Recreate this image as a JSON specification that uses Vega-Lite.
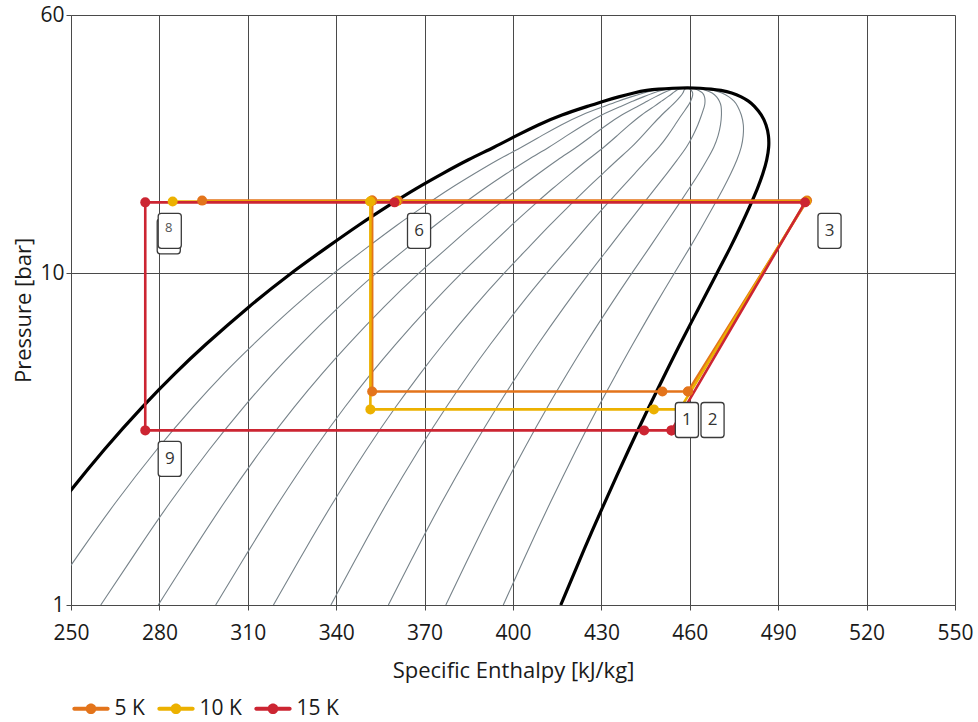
{
  "$schema": "https://vega.github.io/schema/vega-lite/v6.json",
  "width": 884,
  "height": 590,
  "autosize": {"type": "none"},
  "padding": {"left": 71, "top": 15, "right": 23, "bottom": 117},
  "background": "white",
  "config": {
    "view": {"stroke": null},
    "font": "Open Sans",
    "axis": {
      "domainColor": "#4a4a4a",
      "tickColor": "#4a4a4a",
      "gridColor": "#4a4a4a",
      "gridOpacity": 1,
      "gridWidth": 1,
      "labelColor": "#1a1a1a",
      "titleColor": "#1a1a1a",
      "labelFontSize": 21,
      "titleFontSize": 22,
      "titleFontWeight": "normal",
      "labelFont": "Open Sans",
      "titleFont": "Open Sans",
      "tickSize": 5,
      "labelFlush": false,
      "labelOverlap": false
    }
  },
  "datasets": {
    "dome": [
      {"o":1,"h":221.1,"p":1},{"o":2,"h":235.5,"p":1.5},{"o":3,"h":245.8,"p":2},{"o":4,"h":261.9,"p":3},{"o":5,"h":274.6,"p":4},{"o":6,"h":285.3,"p":5},{"o":7,"h":294.7,"p":6},{"o":8,"h":310.75,"p":8},{"o":9,"h":324.5,"p":10},{"o":10,"h":337.05,"p":12},{"o":11,"h":347.7,"p":14},{"o":12,"h":357.8,"p":16},{"o":13,"h":367.0,"p":18},{"o":14,"h":376.2,"p":20},{"o":15,"h":384.8,"p":22},{"o":16,"h":393.8,"p":24},{"o":17,"h":401.2,"p":26},{"o":18,"h":408.5,"p":28},{"o":19,"h":416.3,"p":30},{"o":20,"h":426.1,"p":32},{"o":21,"h":430.7,"p":33},{"o":22,"h":435.8,"p":34},{"o":23,"h":441.2,"p":35},{"o":24,"h":445.4,"p":35.6},{"o":25,"h":449.3,"p":35.9},{"o":26,"h":454.0,"p":36.1},{"o":27,"h":459.4,"p":36.25},{"o":28,"h":463.8,"p":36.1},{"o":29,"h":467.2,"p":35.9},{"o":30,"h":470.5,"p":35.6},{"o":31,"h":474.3,"p":35},{"o":32,"h":477.6,"p":34},{"o":33,"h":480.0,"p":33},{"o":34,"h":481.8,"p":32},{"o":35,"h":484.4,"p":30},{"o":36,"h":486.0,"p":28},{"o":37,"h":486.8,"p":26},{"o":38,"h":486.9,"p":24},{"o":39,"h":486.2,"p":22},{"o":40,"h":484.9,"p":20},{"o":41,"h":483.0,"p":18},{"o":42,"h":480.5,"p":16},{"o":43,"h":477.5,"p":14},{"o":44,"h":473.9,"p":12},{"o":45,"h":469.2,"p":10},{"o":46,"h":463.5,"p":8},{"o":47,"h":456.2,"p":6},{"o":48,"h":451.8,"p":5},{"o":49,"h":446.4,"p":4},{"o":50,"h":439.7,"p":3},{"o":51,"h":430.7,"p":2},{"o":52,"h":424.5,"p":1.5},{"o":53,"h":416.2,"p":1}
    ],
    "quality": [
      {"q":1,"p":1,"h":240.6},{"q":1,"p":1.5,"h":254.4},{"q":1,"p":2,"h":264.3},{"q":1,"p":3,"h":279.7},{"q":1,"p":4,"h":291.8},{"q":1,"p":5,"h":301.9},{"q":1,"p":6,"h":310.9},{"q":1,"p":8,"h":326.0},{"q":1,"p":10,"h":339.0},{"q":1,"p":12,"h":350.7},{"q":1,"p":14,"h":360.7},{"q":1,"p":16,"h":370.1},{"q":1,"p":18,"h":378.6},{"q":1,"p":20,"h":387.1},{"q":1,"p":22,"h":394.9},{"q":1,"p":24,"h":403.1},{"q":1,"p":26,"h":409.8},{"q":1,"p":28,"h":416.3},{"q":1,"p":30,"h":423.1},{"q":1,"p":32,"h":431.7},{"q":1,"p":33,"h":435.6},{"q":1,"p":34,"h":440.0},{"q":1,"p":35,"h":444.5},{"q":1,"p":35.6,"h":447.9},{"q":1,"p":35.9,"h":451.1},{"q":1,"p":36.1,"h":455.0},{"q":1,"p":36.25,"h":459.4},
      {"q":2,"p":1,"h":260.1},{"q":2,"p":1.5,"h":273.3},{"q":2,"p":2,"h":282.8},{"q":2,"p":3,"h":297.5},{"q":2,"p":4,"h":309.0},{"q":2,"p":5,"h":318.6},{"q":2,"p":6,"h":327.0},{"q":2,"p":8,"h":341.3},{"q":2,"p":10,"h":353.4},{"q":2,"p":12,"h":364.4},{"q":2,"p":14,"h":373.7},{"q":2,"p":16,"h":382.3},{"q":2,"p":18,"h":390.2},{"q":2,"p":20,"h":397.9},{"q":2,"p":22,"h":405.1},{"q":2,"p":24,"h":412.4},{"q":2,"p":26,"h":418.3},{"q":2,"p":28,"h":424.0},{"q":2,"p":30,"h":429.9},{"q":2,"p":32,"h":437.2},{"q":2,"p":33,"h":440.6},{"q":2,"p":34,"h":444.2},{"q":2,"p":35,"h":447.8},{"q":2,"p":35.6,"h":450.4},{"q":2,"p":35.9,"h":452.9},{"q":2,"p":36.1,"h":456.0},{"q":2,"p":36.25,"h":459.4},
      {"q":3,"p":1,"h":279.6},{"q":3,"p":1.5,"h":292.2},{"q":3,"p":2,"h":301.3},{"q":3,"p":3,"h":315.2},{"q":3,"p":4,"h":326.1},{"q":3,"p":5,"h":335.3},{"q":3,"p":6,"h":343.2},{"q":3,"p":8,"h":356.6},{"q":3,"p":10,"h":367.9},{"q":3,"p":12,"h":378.1},{"q":3,"p":14,"h":386.6},{"q":3,"p":16,"h":394.6},{"q":3,"p":18,"h":401.8},{"q":3,"p":20,"h":408.8},{"q":3,"p":22,"h":415.2},{"q":3,"p":24,"h":421.7},{"q":3,"p":26,"h":426.9},{"q":3,"p":28,"h":431.8},{"q":3,"p":30,"h":436.7},{"q":3,"p":32,"h":442.8},{"q":3,"p":33,"h":445.5},{"q":3,"p":34,"h":448.3},{"q":3,"p":35,"h":451.1},{"q":3,"p":35.6,"h":452.9},{"q":3,"p":35.9,"h":454.7},{"q":3,"p":36.1,"h":456.9},{"q":3,"p":36.25,"h":459.4},
      {"q":4,"p":1,"h":299.1},{"q":4,"p":1.5,"h":311.1},{"q":4,"p":2,"h":319.8},{"q":4,"p":3,"h":333.0},{"q":4,"p":4,"h":343.3},{"q":4,"p":5,"h":351.9},{"q":4,"p":6,"h":359.3},{"q":4,"p":8,"h":371.9},{"q":4,"p":10,"h":382.4},{"q":4,"p":12,"h":391.8},{"q":4,"p":14,"h":399.6},{"q":4,"p":16,"h":406.9},{"q":4,"p":18,"h":413.4},{"q":4,"p":20,"h":419.7},{"q":4,"p":22,"h":425.4},{"q":4,"p":24,"h":431.0},{"q":4,"p":26,"h":435.4},{"q":4,"p":28,"h":439.5},{"q":4,"p":30,"h":443.5},{"q":4,"p":32,"h":448.4},{"q":4,"p":33,"h":450.4},{"q":4,"p":34,"h":452.5},{"q":4,"p":35,"h":454.4},{"q":4,"p":35.6,"h":455.4},{"q":4,"p":35.9,"h":456.5},{"q":4,"p":36.1,"h":457.9},{"q":4,"p":36.25,"h":459.4},
      {"q":5,"p":1,"h":318.7},{"q":5,"p":1.5,"h":330.0},{"q":5,"p":2,"h":338.3},{"q":5,"p":3,"h":350.8},{"q":5,"p":4,"h":360.5},{"q":5,"p":5,"h":368.6},{"q":5,"p":6,"h":375.5},{"q":5,"p":8,"h":387.1},{"q":5,"p":10,"h":396.9},{"q":5,"p":12,"h":405.5},{"q":5,"p":14,"h":412.6},{"q":5,"p":16,"h":419.2},{"q":5,"p":18,"h":425.0},{"q":5,"p":20,"h":430.6},{"q":5,"p":22,"h":435.5},{"q":5,"p":24,"h":440.4},{"q":5,"p":26,"h":444.0},{"q":5,"p":28,"h":447.3},{"q":5,"p":30,"h":450.4},{"q":5,"p":32,"h":453.9},{"q":5,"p":33,"h":455.4},{"q":5,"p":34,"h":456.7},{"q":5,"p":35,"h":457.8},{"q":5,"p":35.6,"h":458.0},{"q":5,"p":35.9,"h":458.3},{"q":5,"p":36.1,"h":458.9},{"q":5,"p":36.25,"h":459.4},
      {"q":6,"p":1,"h":338.2},{"q":6,"p":1.5,"h":348.9},{"q":6,"p":2,"h":356.7},{"q":6,"p":3,"h":368.6},{"q":6,"p":4,"h":377.7},{"q":6,"p":5,"h":385.2},{"q":6,"p":6,"h":391.6},{"q":6,"p":8,"h":402.4},{"q":6,"p":10,"h":411.3},{"q":6,"p":12,"h":419.2},{"q":6,"p":14,"h":425.6},{"q":6,"p":16,"h":431.4},{"q":6,"p":18,"h":436.6},{"q":6,"p":20,"h":441.4},{"q":6,"p":22,"h":445.6},{"q":6,"p":24,"h":449.7},{"q":6,"p":26,"h":452.6},{"q":6,"p":28,"h":455.0},{"q":6,"p":30,"h":457.2},{"q":6,"p":32,"h":459.5},{"q":6,"p":33,"h":460.3},{"q":6,"p":34,"h":460.9},{"q":6,"p":35,"h":461.1},{"q":6,"p":35.6,"h":460.5},{"q":6,"p":35.9,"h":460.0},{"q":6,"p":36.1,"h":459.9},{"q":6,"p":36.25,"h":459.4},
      {"q":7,"p":1,"h":357.7},{"q":7,"p":1.5,"h":367.8},{"q":7,"p":2,"h":375.2},{"q":7,"p":3,"h":386.4},{"q":7,"p":4,"h":394.9},{"q":7,"p":5,"h":401.9},{"q":7,"p":6,"h":407.8},{"q":7,"p":8,"h":417.7},{"q":7,"p":10,"h":425.8},{"q":7,"p":12,"h":432.8},{"q":7,"p":14,"h":438.6},{"q":7,"p":16,"h":443.7},{"q":7,"p":18,"h":448.2},{"q":7,"p":20,"h":452.3},{"q":7,"p":22,"h":455.8},{"q":7,"p":24,"h":459.0},{"q":7,"p":26,"h":461.1},{"q":7,"p":28,"h":462.8},{"q":7,"p":30,"h":464.0},{"q":7,"p":32,"h":465.1},{"q":7,"p":33,"h":465.2},{"q":7,"p":34,"h":465.1},{"q":7,"p":35,"h":464.4},{"q":7,"p":35.6,"h":463.0},{"q":7,"p":35.9,"h":461.8},{"q":7,"p":36.1,"h":460.9},{"q":7,"p":36.25,"h":459.4},
      {"q":8,"p":1,"h":377.2},{"q":8,"p":1.5,"h":386.7},{"q":8,"p":2,"h":393.7},{"q":8,"p":3,"h":404.1},{"q":8,"p":4,"h":412.0},{"q":8,"p":5,"h":418.5},{"q":8,"p":6,"h":423.9},{"q":8,"p":8,"h":433.0},{"q":8,"p":10,"h":440.3},{"q":8,"p":12,"h":446.5},{"q":8,"p":14,"h":451.5},{"q":8,"p":16,"h":456.0},{"q":8,"p":18,"h":459.8},{"q":8,"p":20,"h":463.2},{"q":8,"p":22,"h":465.9},{"q":8,"p":24,"h":468.3},{"q":8,"p":26,"h":469.7},{"q":8,"p":28,"h":470.5},{"q":8,"p":30,"h":470.8},{"q":8,"p":32,"h":470.7},{"q":8,"p":33,"h":470.1},{"q":8,"p":34,"h":469.2},{"q":8,"p":35,"h":467.7},{"q":8,"p":35.6,"h":465.5},{"q":8,"p":35.9,"h":463.6},{"q":8,"p":36.1,"h":461.8},{"q":8,"p":36.25,"h":459.4},
      {"q":9,"p":1,"h":396.7},{"q":9,"p":1.5,"h":405.6},{"q":9,"p":2,"h":412.2},{"q":9,"p":3,"h":421.9},{"q":9,"p":4,"h":429.2},{"q":9,"p":5,"h":435.2},{"q":9,"p":6,"h":440.1},{"q":9,"p":8,"h":448.2},{"q":9,"p":10,"h":454.7},{"q":9,"p":12,"h":460.2},{"q":9,"p":14,"h":464.5},{"q":9,"p":16,"h":468.2},{"q":9,"p":18,"h":471.4},{"q":9,"p":20,"h":474.0},{"q":9,"p":22,"h":476.1},{"q":9,"p":24,"h":477.6},{"q":9,"p":26,"h":478.2},{"q":9,"p":28,"h":478.3},{"q":9,"p":30,"h":477.6},{"q":9,"p":32,"h":476.2},{"q":9,"p":33,"h":475.1},{"q":9,"p":34,"h":473.4},{"q":9,"p":35,"h":471.0},{"q":9,"p":35.6,"h":468.0},{"q":9,"p":35.9,"h":465.4},{"q":9,"p":36.1,"h":462.8},{"q":9,"p":36.25,"h":459.4}
    ],
    "cycles": [
      {"cycle":"5 K","o":1,"h":459.4,"p":4.40},{"cycle":"5 K","o":2,"h":499.8,"p":16.55},{"cycle":"5 K","o":3,"h":360.9,"p":16.55},{"cycle":"5 K","o":4,"h":352.2,"p":16.55},{"cycle":"5 K","o":5,"h":294.5,"p":16.55},{"cycle":"5 K","o":6,"h":352.2,"p":16.55},{"cycle":"5 K","o":7,"h":352.2,"p":4.40},{"cycle":"5 K","o":8,"h":450.7,"p":4.40},{"cycle":"5 K","o":9,"h":459.4,"p":4.40},
      {"cycle":"10 K","o":1,"h":456.6,"p":3.886},{"cycle":"10 K","o":2,"h":499.4,"p":16.45},{"cycle":"10 K","o":3,"h":360.3,"p":16.45},{"cycle":"10 K","o":4,"h":351.6,"p":16.45},{"cycle":"10 K","o":5,"h":284.5,"p":16.45},{"cycle":"10 K","o":6,"h":351.6,"p":16.45},{"cycle":"10 K","o":7,"h":351.6,"p":3.886},{"cycle":"10 K","o":8,"h":447.8,"p":3.886},{"cycle":"10 K","o":9,"h":456.6,"p":3.886},
      {"cycle":"15 K","o":1,"h":453.8,"p":3.359},{"cycle":"15 K","o":2,"h":499.1,"p":16.35},{"cycle":"15 K","o":3,"h":359.8,"p":16.35},{"cycle":"15 K","o":4,"h":275.2,"p":16.35},{"cycle":"15 K","o":5,"h":275.2,"p":3.359},{"cycle":"15 K","o":6,"h":444.5,"p":3.359},{"cycle":"15 K","o":7,"h":453.8,"p":3.359}
    ],
    "labels": [
      {"label":"8","h":275.2,"p":16.35},{"label":"6","h":359.8,"p":16.35},{"label":"3","h":499.1,"p":16.35},{"label":"9","h":275.2,"p":3.359},{"label":"1","h":450.7,"p":4.40},{"label":"2","h":459.4,"p":4.40}
    ]
  },
  "encoding": {
    "x": {
      "field": "h", "type": "quantitative",
      "scale": {"domain": [250, 550], "nice": false, "zero": false},
      "axis": {
        "title": "Specific Enthalpy [kJ/kg]",
        "values": [250, 280, 310, 340, 370, 400, 430, 460, 490, 520, 550],
        "grid": true,
        "labelBaseline": "alphabetic",
        "labelPadding": 29,
        "titleBaseline": "alphabetic",
        "titleY": 72
      }
    },
    "y": {
      "field": "p", "type": "quantitative",
      "scale": {"type": "log", "domain": [1, 60], "nice": false},
      "axis": {
        "title": "Pressure [bar]",
        "values": [1, 10, 60],
        "format": "d",
        "grid": true,
        "labelPadding": 2,
        "titleAngle": 270,
        "titleAlign": "center",
        "titleBaseline": "alphabetic",
        "titleX": -41,
        "titleY": 295
      }
    }
  },
  "layer": [
    {
      "data": {"name": "quality"},
      "mark": {"type": "line", "stroke": "#77838a", "strokeWidth": 1.1, "interpolate": "basis", "clip": true},
      "encoding": {"detail": {"field": "q", "type": "nominal"}, "order": {"field": "p", "type": "quantitative"}}
    },
    {
      "data": {"name": "dome"},
      "mark": {"type": "line", "stroke": "#000000", "strokeWidth": 3.2, "interpolate": "basis", "clip": true},
      "encoding": {"order": {"field": "o", "type": "quantitative"}}
    },
    {
      "data": {"name": "cycles"},
      "mark": {"type": "line", "strokeWidth": 2.6, "strokeCap": "round", "strokeJoin": "round", "clip": true},
      "encoding": {
        "color": {
          "field": "cycle", "type": "nominal",
          "scale": {"domain": ["5 K", "10 K", "15 K"], "range": ["#e3741b", "#ecb100", "#cc2532"]},
          "legend": {
            "orient": "none", "legendX": 1.5, "legendY": 675, "direction": "horizontal", "title": null,
            "symbolType": "M-0.9,-0.108 L0.9,-0.108 A0.108,0.108 0 0,1 0.9,0.108 L-0.9,0.108 A0.108,0.108 0 0,1 -0.9,-0.108 Z M0.29,0 A0.29,0.29 0 1,1 -0.29,0 A0.29,0.29 0 1,1 0.29,0 Z",
            "symbolSize": 1369, "symbolStrokeWidth": 0,
            "labelFontSize": 21, "labelFont": "Open Sans", "labelColor": "#1a1a1a", "labelOffset": 5, "columnPadding": 11, "padding": 0,
            "encode": {"symbols": {"update": {"fill": {"scale": "color", "field": "value"}, "strokeWidth": {"value": 0}, "opacity": {"value": 1}}}}
          }
        },
        "order": {"field": "o", "type": "quantitative"}
      }
    },
    {
      "data": {"name": "cycles"},
      "mark": {"type": "point", "filled": true, "size": 100, "opacity": 1, "strokeWidth": 0},
      "encoding": {
        "color": {
          "field": "cycle", "type": "nominal",
          "scale": {"domain": ["5 K", "10 K", "15 K"], "range": ["#e3741b", "#ecb100", "#cc2532"]}
        }
      }
    },
    {
      "data": {"name": "labels"},
      "transform": [{"filter": "datum.label == '8'"}],
      "mark": {"type": "point", "shape": "M-0.49,-1 L0.49,-1 Q0.66,-1 0.66,-0.83 L0.66,0.83 Q0.66,1 0.49,1 L-0.49,1 Q-0.66,1 -0.66,0.83 L-0.66,-0.83 Q-0.66,-1 -0.49,-1 Z", "size": 1225, "filled": true, "fill": "white", "stroke": "#3a3a3a", "strokeWidth": 1.3, "opacity": 1, "xOffset": 23.5, "yOffset": 34}
    },
    {
      "data": {"name": "labels"},
      "mark": {"type": "point", "shape": "M-0.49,-1 L0.49,-1 Q0.66,-1 0.66,-0.83 L0.66,0.83 Q0.66,1 0.49,1 L-0.49,1 Q-0.66,1 -0.66,0.83 L-0.66,-0.83 Q-0.66,-1 -0.49,-1 Z", "size": 1225, "filled": true, "fill": "white", "stroke": "#3a3a3a", "strokeWidth": 1.3, "opacity": 1, "xOffset": 24.5, "yOffset": 28.5}
    },
    {
      "data": {"name": "labels"},
      "transform": [{"filter": "datum.label != '8'"}],
      "mark": {"type": "text", "fontSize": 17, "font": "Open Sans", "color": "#333333", "align": "center", "baseline": "middle", "xOffset": 24.5, "yOffset": 28.5},
      "encoding": {"text": {"field": "label"}}
    },
    {
      "data": {"name": "labels"},
      "transform": [{"filter": "datum.label == '8'"}],
      "mark": {"type": "text", "fontSize": 13, "font": "Open Sans", "color": "#555555", "align": "center", "baseline": "middle", "xOffset": 23.5, "yOffset": 26},
      "encoding": {"text": {"field": "label"}}
    }
  ]
}
